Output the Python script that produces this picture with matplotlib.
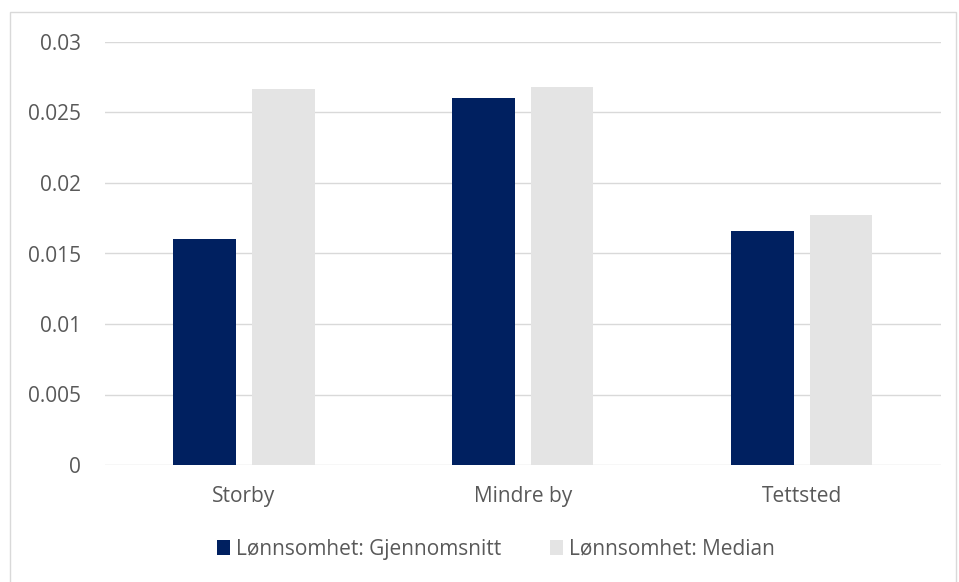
import matplotlib
matplotlib.use("Agg")
import matplotlib.pyplot as plt
import numpy as np
from matplotlib.patches import Rectangle

categories = ["Storby", "Mindre by", "Tettsted"]
gjennomsnitt = [0.0160, 0.0260, 0.0166]
median = [0.0267, 0.0268, 0.01775]
series_names = ["Lønnsomhet: Gjennomsnitt", "Lønnsomhet: Median"]
yticks = [0, 0.005, 0.01, 0.015, 0.02, 0.025, 0.03]
ytick_labels = ["0", "0.005", "0.01", "0.015", "0.02", "0.025", "0.03"]

plt.rcParams["font.family"] = ["Open Sans", "DejaVu Sans"]

W, H = 959, 582
fig = plt.figure(figsize=(W / 100, H / 100), dpi=100)
fig.patch.set_facecolor("white")

# chart frame
fig.patches.append(Rectangle((10 / W, -0.01), (W - 13) / W, 1 - 12 / H + 0.01,
                             transform=fig.transFigure, fill=False,
                             edgecolor="#d9d9d9", linewidth=1.0))

ax = fig.add_axes([104.5 / W, (H - 465) / H, 836.5 / W, (465 - 42) / H])
x = np.arange(len(categories))
bw = 0.225
off = bw / 2 + 0.0285
ax.bar(x - off, gjennomsnitt, bw, color="#002060", label=series_names[0], zorder=3)
ax.bar(x + off, median, bw, color="#e4e4e4", label=series_names[1], zorder=3)

ax.set_xlim(-0.5, len(categories) - 0.5)
ax.set_ylim(0, 0.03)
ax.set_yticks(yticks)
ax.set_yticklabels(ytick_labels)
ax.set_xticks(x)
ax.set_xticklabels(categories)
ax.grid(axis="y", color="#d9d9d9", linewidth=1.0, zorder=0)
for s in ax.spines.values():
    s.set_visible(False)
ax.tick_params(axis="both", length=0, labelsize=15, colors="#595959")
ax.tick_params(axis="y", pad=17)
ax.tick_params(axis="x", pad=15)

fig.legend(loc="center", bbox_to_anchor=(496 / W, 1 - 549 / H), ncol=2, frameon=False,
           fontsize=15, labelcolor="#595959", handlelength=0.65, handleheight=0.75,
           handletextpad=0.3, columnspacing=2.3)

fig.savefig("out.png", dpi=100)
